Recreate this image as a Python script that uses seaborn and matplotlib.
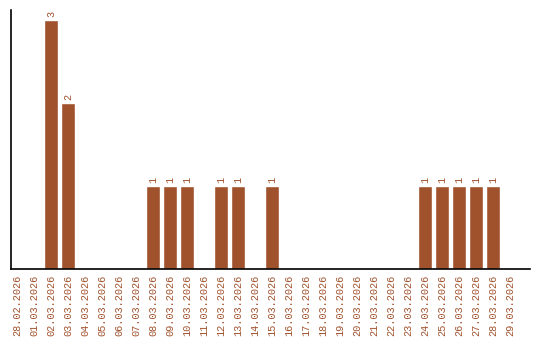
import matplotlib
matplotlib.use("Agg")
import matplotlib.pyplot as plt
import seaborn as sns
import pandas as pd

dates = ["28.02.2026", "01.03.2026", "02.03.2026", "03.03.2026", "04.03.2026",
         "05.03.2026", "06.03.2026", "07.03.2026", "08.03.2026", "09.03.2026",
         "10.03.2026", "11.03.2026", "12.03.2026", "13.03.2026", "14.03.2026",
         "15.03.2026", "16.03.2026", "17.03.2026", "18.03.2026", "19.03.2026",
         "20.03.2026", "21.03.2026", "22.03.2026", "23.03.2026", "24.03.2026",
         "25.03.2026", "26.03.2026", "27.03.2026", "28.03.2026", "29.03.2026"]
counts = [0, 0, 3, 2, 0, 0, 0, 0, 1, 1, 1, 0, 1, 1, 0, 1, 0, 0, 0, 0,
          0, 0, 0, 0, 1, 1, 1, 1, 1, 0]

color = "#A0522D"
df = pd.DataFrame({"date": dates, "count": counts})

sns.set_style("white")
plt.rcParams['font.family'] = ['Liberation Mono', 'DejaVu Sans Mono']

fig = plt.figure(figsize=(5.4, 3.4), dpi=100)
ax = fig.add_axes([11/540, 1-269/340, 519/540, 259/340])
sns.barplot(data=df, x="date", y="count", color=color, saturation=1,
            width=0.82, ax=ax)
for p, v in zip(ax.patches, counts):
    if v > 0:
        ax.text(p.get_x() + p.get_width()/2, p.get_height() + 0.03, str(v),
                rotation=90, ha="center", va="bottom", color=color, fontsize=7.3)

ax.set_xlim(-0.35, 30.18)
ax.set_ylim(0, 3.12)
ax.set_xlabel("")
ax.set_ylabel("")
ax.set_yticks([])
ax.tick_params(axis="x", length=0, pad=4, labelrotation=90, labelsize=7.4,
               labelcolor=color)
for lbl in ax.get_xticklabels():
    lbl.set_ha("center")
    lbl.set_va("top")
for s in ["top", "right"]:
    ax.spines[s].set_visible(False)
for s in ["left", "bottom"]:
    ax.spines[s].set_color("black")
    ax.spines[s].set_linewidth(1.2)

fig.savefig("out.png", dpi=100)
